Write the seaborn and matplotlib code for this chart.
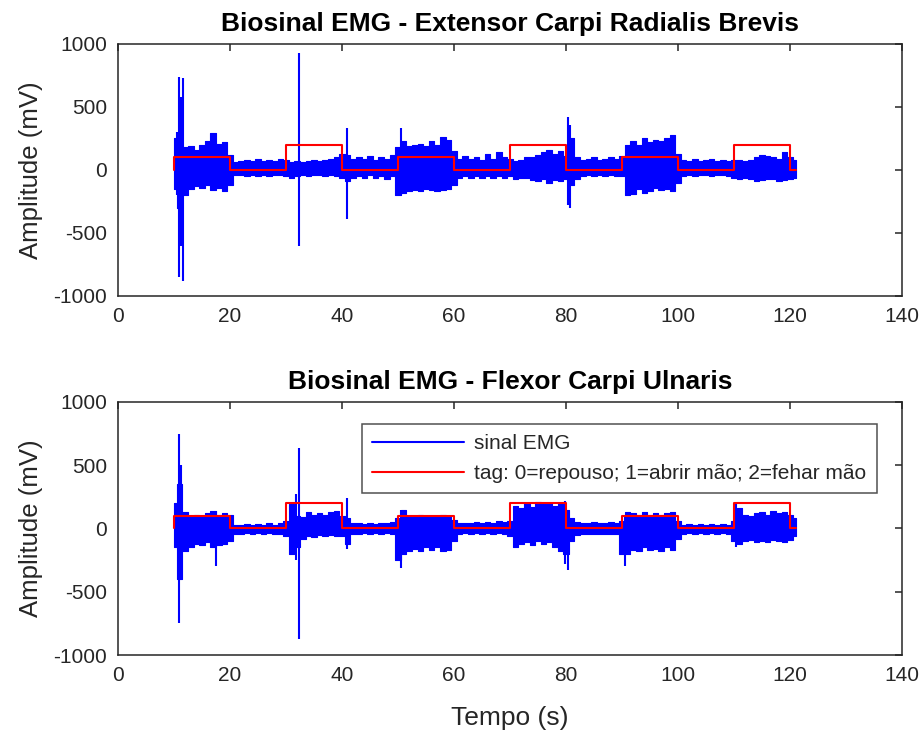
import numpy as np
import pandas as pd
import matplotlib
matplotlib.use("Agg")
import matplotlib.pyplot as plt
import seaborn as sns

# ---------------- data ----------------
t_sec = list(range(10, 122))

top_upper = [250, 280, 180, 190, 160, 200, 230, 290, 210, 220, 120,
             60, 70, 80, 70, 90, 75, 80, 70, 90, 80,
             60, 70, 60, 70, 80, 70, 80, 90, 100, 130,
             120, 90, 100, 90, 110, 80, 100, 90, 120, 180,
             230, 190, 200, 210, 190, 230, 200, 260, 240, 150,
             90, 110, 90, 100, 80, 130, 90, 140, 100, 90,
             70, 80, 100, 100, 120, 140, 160, 130, 150, 110,
             250, 100, 80, 90, 100, 80, 90, 100, 90, 110,
             200, 230, 200, 250, 220, 240, 230, 250, 280, 130,
             80, 70, 90, 70, 80, 90, 70, 80, 70, 80,
             80, 70, 80, 100, 120, 110, 100, 90, 140, 100, 80]
top_lower = [-150, -300, -200, -150, -130, -140, -120, -160, -140, -170, -120,
             -40, -40, -50, -40, -50, -40, -50, -40, -40, -50,
             -60, -50, -40, -50, -40, -40, -50, -40, -50, -60,
             -90, -60, -50, -60, -40, -60, -50, -70, -50, -200,
             -180, -170, -160, -170, -150, -160, -170, -160, -150, -120,
             -60, -50, -60, -50, -60, -50, -60, -50, -60, -50,
             -70, -60, -60, -80, -90, -70, -100, -80, -90, -70,
             -120, -70, -50, -40, -50, -40, -50, -40, -50, -50,
             -200, -190, -150, -180, -170, -140, -160, -150, -170, -100,
             -50, -40, -50, -40, -40, -50, -40, -40, -50, -60,
             -70, -60, -70, -90, -80, -70, -70, -90, -80, -70, -60]
top_spike_t = [10.5, 10.8, 11.3, 11.6, 32.3, 40.8, 50.5, 80.3, 80.7]
top_spike_hi = [300, 740, 580, 730, 930, 330, 330, 420, 360]
top_spike_lo = [-200, -850, -600, -880, -600, -390, -200, -280, -300]

bot_upper = [200, 350, 130, 100, 110, 100, 120, 140, 110, 120, 110,
             30, 30, 35, 30, 35, 30, 40, 30, 40, 60,
             190, 100, 90, 130, 110, 120, 110, 130, 140, 100,
             80, 40, 40, 35, 40, 35, 40, 40, 50, 80,
             150, 100, 90, 110, 100, 90, 100, 110, 100, 70,
             40, 45, 40, 50, 45, 50, 40, 60, 50, 60,
             180, 160, 200, 170, 210, 190, 200, 180, 200, 150,
             80, 50, 40, 40, 50, 40, 40, 50, 40, 60,
             130, 120, 110, 130, 110, 120, 110, 120, 130, 60,
             30, 35, 30, 35, 30, 35, 30, 35, 30, 60,
             160, 110, 100, 120, 130, 110, 140, 120, 130, 110, 80]
bot_lower = [-150, -400, -180, -150, -120, -130, -110, -150, -130, -120, -100,
             -40, -40, -35, -40, -35, -40, -35, -40, -40, -60,
             -200, -150, -80, -60, -70, -50, -60, -50, -60, -60,
             -120, -40, -40, -35, -40, -35, -40, -35, -40, -250,
             -200, -180, -160, -180, -150, -170, -150, -180, -170, -100,
             -40, -35, -40, -35, -40, -35, -40, -35, -40, -60,
             -150, -120, -110, -130, -100, -120, -110, -150, -180, -200,
             -100, -50, -40, -40, -45, -40, -40, -40, -40, -200,
             -200, -170, -180, -150, -170, -160, -180, -150, -170, -80,
             -40, -35, -40, -35, -40, -35, -40, -35, -40, -100,
             -120, -100, -90, -110, -100, -110, -90, -100, -110, -90, -60]
bot_spike_t = [10.9, 11.2, 17.5, 31.8, 32.3, 40.8, 50.6, 79.8, 80.3, 90.5, 110.4]
bot_spike_hi = [750, 500, 140, 270, 640, 240, 150, 220, 100, 100, 200]
bot_spike_lo = [-750, -400, -300, -250, -870, -160, -310, -280, -330, -300, -150]

tag_t = [10, 10, 20, 30, 40, 50, 60, 70, 80, 90, 100, 110, 120, 121]
tag_v = [0, 100, 0, 200, 0, 100, 0, 200, 0, 100, 0, 200, 0, 0]

titles = ["Biosinal EMG - Extensor Carpi Radialis Brevis",
          "Biosinal EMG - Flexor Carpi Ulnaris"]
legend_labels = ["sinal EMG", "tag: 0=repouso; 1=abrir mão; 2=fehar mão"]
y_ticks = [-1000, -500, 0, 500, 1000]
x_ticks = [0, 20, 40, 60, 80, 100, 120, 140]

# ---------------- style ----------------
sns.set_theme(style="white")
plt.rcParams["font.family"] = ["Liberation Sans", "DejaVu Sans"]
dark = "#262626"
plt.rcParams.update({
    "axes.unicode_minus": False,
    "axes.edgecolor": dark, "axes.linewidth": 1.1,
    "xtick.color": dark, "ytick.color": dark,
    "xtick.labelcolor": dark, "ytick.labelcolor": dark,
    "xtick.direction": "in", "ytick.direction": "in",
    "xtick.major.size": 5, "ytick.major.size": 5,
    "xtick.major.width": 1.1, "ytick.major.width": 1.1,
})

fig = plt.figure(figsize=(9.2, 7.33), dpi=100)
ax1 = fig.add_axes([0.1283, 0.5962, 0.8522, 0.3438])
ax2 = fig.add_axes([0.1283, 0.1064, 0.8522, 0.3452])

tag_df = pd.DataFrame({"t": tag_t, "v": tag_v})

panels = [
    (ax1, top_upper, top_lower, top_spike_t, top_spike_hi, top_spike_lo),
    (ax2, bot_upper, bot_lower, bot_spike_t, bot_spike_hi, bot_spike_lo),
]
for i, (ax, up, lo, st, sh, sl) in enumerate(panels):
    ax.fill_between(t_sec, lo, up, step="mid", color="#0000ff", lw=0.8,
                    edgecolor="#0000ff")
    ax.vlines(st, sl, sh, color="#0000ff", lw=1.5)
    sns.lineplot(x=[t_sec[0], t_sec[0]], y=[0, 0], ax=ax, color="#0000ff", lw=1.4,
                 label=legend_labels[0] if i == 1 else None)
    sns.lineplot(data=tag_df, x="t", y="v", ax=ax, color="#ff0000", lw=1.5,
                 drawstyle="steps-post", sort=False, estimator=None,
                 label=legend_labels[1] if i == 1 else None)
    ax.set_xlim(0, 140)
    ax.set_ylim(-1000, 1000)
    ax.set_xticks(x_ticks)
    ax.set_yticks(y_ticks)
    ax.tick_params(labelsize=15, top=True, right=True, pad=8)
    ax.set_ylabel("Amplitude (mV)", fontsize=18.5, color=dark, labelpad=7)
    ax.set_xlabel("")
    ax.set_title(titles[i], fontsize=19, fontweight="bold", color="black", pad=9)
    for s in ax.spines.values():
        s.set_visible(True)
        s.set_color(dark)

ax2.set_xlabel("Tempo (s)", fontsize=19, color=dark, labelpad=15)
if ax1.get_legend() is not None:
    ax1.get_legend().remove()
leg = ax2.legend(loc="upper right", bbox_to_anchor=(0.968, 0.913), borderaxespad=0,
                 fontsize=15, frameon=True, fancybox=False, handlelength=4.4,
                 handletextpad=0.5, borderpad=0.5, labelspacing=0.5)
leg.get_frame().set_edgecolor(dark)
leg.get_frame().set_linewidth(1.1)
for line in leg.get_lines():
    line.set_linewidth(1.5)

fig.savefig("out.png", dpi=100)
